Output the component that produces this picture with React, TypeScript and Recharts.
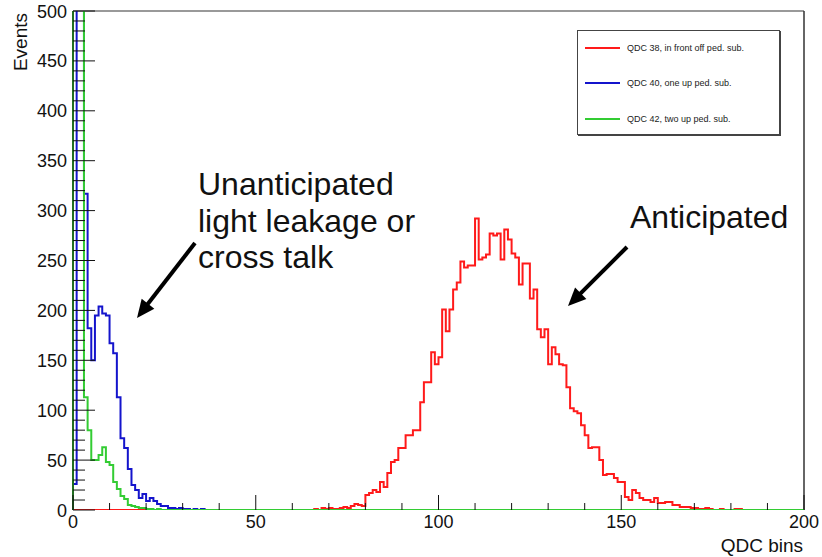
import React from "react";
import {
  LineChart,
  Line,
  XAxis,
  YAxis,
  Legend,
  ReferenceLine,
} from "recharts";

// counts per 1-unit QDC bin; red starts at bin redStart, blue/green at bin 0
const redStart = 66;
const redCounts = [
  1, 0, 2, 1, 2, 1, 1, 2, 3, 2, 4, 6, 5, 4, 15, 17, 20, 18, 28, 23, 37, 48, 50,
  62, 62, 75, 75, 80, 80, 108, 128, 128, 158, 146, 153, 201, 179, 201, 221, 228,
  249, 243, 245, 245, 292, 251, 253, 256, 277, 275, 277, 251, 281, 271, 257, 253,
  226, 247, 247, 212, 221, 181, 173, 181, 146, 163, 156, 146, 145, 123, 102, 99,
  97, 85, 75, 62, 63, 63, 50, 35, 36, 36, 32, 28, 28, 13, 10, 20, 17, 12, 10, 10,
  8, 12, 7, 7, 8, 8, 5, 5, 3, 3, 3, 2, 2, 1, 1, 2, 1, 0, 0, 1, 0, 0, 0, 1, 1,
];
const blueCounts = [
  26, 1200, 900, 317, 182, 150, 195, 204, 197, 195, 167, 157, 113, 72, 62, 41,
  25, 20, 12, 16, 9, 12, 9, 6, 4, 4, 2, 2, 1, 2, 1, 1, 0, 1, 0, 1,
];
const greenCounts = [
  1800, 1300, 800, 113, 80, 50, 50, 55, 63, 48, 45, 28, 21, 14, 11, 5, 4, 3, 2,
  2, 1, 1, 0, 1,
];

const seriesNames = [
  "QDC 38, in front off ped. sub.",
  "QDC 40, one up ped. sub.",
  "QDC 42, two up ped. sub.",
];
const seriesColors = ["#ff1a1a", "#1414cc", "#33cc33"];

const xMajorTicks = [0, 50, 100, 150, 200];
const yMajorTicks = [0, 50, 100, 150, 200, 250, 300, 350, 400, 450, 500];
const xTicks = Array.from({ length: 21 }, (_, i) => i * 10);
const yTicks = Array.from({ length: 51 }, (_, i) => i * 10);

const nBins = 200;
const font = "'Liberation Sans', Arial, Helvetica, sans-serif";

const binValue = (arr: number[], start: number, k: number) =>
  k - start >= 0 && k - start < arr.length ? arr[k - start] : 0;

// step histogram rows: baseline start, one row per bin edge, closing edge
const data: any[] = [{ x: 0, red: 0, blue: 0, green: 0 }];
for (let k = 0; k <= nBins; k++) {
  const b = Math.min(k, nBins - 1);
  data.push({
    x: k,
    red: binValue(redCounts, redStart, b),
    blue: binValue(blueCounts, 0, b),
    green: binValue(greenCounts, 0, b),
  });
}

const XTick = (props: any) => {
  const { x, y, payload } = props;
  const major = xMajorTicks.includes(payload.value);
  return (
    <g>
      <line x1={x} y1={y} x2={x} y2={y - (major ? 15 : 7)} stroke="#111" strokeWidth={1} />
      {major && (
        <text x={x} y={y + 18} textAnchor="middle" fontSize={18} fontFamily={font} fill="#111">
          {payload.value}
        </text>
      )}
    </g>
  );
};

const YTick = (props: any) => {
  const { x, y, payload } = props;
  const major = yMajorTicks.includes(payload.value);
  return (
    <g>
      <line x1={x} y1={y} x2={x + (major ? 22 : 12)} y2={y} stroke="#111" strokeWidth={1} />
      {major && (
        <text x={x - 6} y={y + 6.5} textAnchor="end" fontSize={18} fontFamily={font} fill="#111">
          {payload.value}
        </text>
      )}
    </g>
  );
};

const renderLegend = (props: any) => (
  <div
    style={{
      width: 203,
      height: 105,
      boxSizing: "border-box",
      border: "1px solid #444",
      boxShadow: "1px 1px 0 #444",
      background: "#fff",
      position: "relative",
      fontFamily: font,
      fontSize: 9,
      color: "#222",
    }}
  >
    {(props.payload || []).map((entry: any, i: number) => (
      <div
        key={`leg-${i}`}
        style={{
          position: "absolute",
          left: 7,
          top: [17, 52, 88][i] - 7,
          height: 14,
          display: "flex",
          alignItems: "center",
          whiteSpace: "nowrap",
        }}
      >
        <svg width={35} height={4}>
          <line x1={0} y1={2} x2={35} y2={2} stroke={entry.color} strokeWidth={2} />
        </svg>
        <span style={{ marginLeft: 7 }}>{entry.value}</span>
      </div>
    ))}
  </div>
);

const Arrow = ({ x1, y1, x2, y2 }: { x1: number; y1: number; x2: number; y2: number }) => {
  const dx = x2 - x1;
  const dy = y2 - y1;
  const len = Math.sqrt(dx * dx + dy * dy);
  const ux = dx / len;
  const uy = dy / len;
  const head = 18;
  const half = 8;
  const bx = x2 - ux * head;
  const by = y2 - uy * head;
  return (
    <g>
      <line x1={x1} y1={y1} x2={bx + ux * 2} y2={by + uy * 2} stroke="#000" strokeWidth={4} />
      <polygon
        points={`${x2},${y2} ${bx - uy * half},${by + ux * half} ${bx + uy * half},${by - ux * half}`}
        fill="#000"
      />
    </g>
  );
};

const App: React.FC = () => {
  return (
    <div style={{ position: "absolute", left: 0, top: 0, width: 822, height: 557, background: "#fff" }}>
      <LineChart
        width={822}
        height={557}
        data={data}
        margin={{ top: 11, right: 18, bottom: 0, left: 0 }}
      >
        <XAxis
          dataKey="x"
          type="number"
          domain={[0, 200]}
          ticks={xTicks}
          interval={0}
          height={47}
          tickSize={0}
          tickMargin={0}
          tick={<XTick />}
          axisLine={false}
          tickLine={false}
          label={{
            content: (p: any) => {
              const vb = p.viewBox || {};
              return (
                <text
                  x={(vb.x ?? 73) + (vb.width ?? 731) - 1}
                  y={(vb.y ?? 510) + 42}
                  textAnchor="end"
                  fontSize={19}
                  fontFamily={font}
                  fill="#111"
                >
                  QDC bins
                </text>
              );
            },
          }}
        />
        <YAxis
          type="number"
          domain={[0, 500]}
          allowDataOverflow
          ticks={yTicks}
          interval={0}
          width={73}
          tickSize={0}
          tickMargin={0}
          tick={<YTick />}
          axisLine={{ stroke: "#111" }}
          tickLine={false}
          label={{
            content: (p: any) => {
              const vb = p.viewBox || {};
              const lx = (vb.x ?? 0) + 27;
              const ly = (vb.y ?? 11) + 2;
              return (
                <text
                  x={lx}
                  y={ly}
                  transform={`rotate(-90, ${lx}, ${ly})`}
                  textAnchor="end"
                  fontSize={19}
                  fontFamily={font}
                  fill="#111"
                >
                  Events
                </text>
              );
            },
          }}
        />
        <ReferenceLine y={500} stroke="#777" strokeWidth={1.5} />
        <ReferenceLine x={200} stroke="#333" strokeWidth={1.5} />
        <Line
          type="stepAfter"
          dataKey="red"
          name={seriesNames[0]}
          stroke={seriesColors[0]}
          strokeWidth={2}
          dot={false}
          isAnimationActive={false}
        />
        <Line
          type="stepAfter"
          dataKey="blue"
          name={seriesNames[1]}
          stroke={seriesColors[1]}
          strokeWidth={2}
          dot={false}
          isAnimationActive={false}
        />
        <Line
          type="stepAfter"
          dataKey="green"
          name={seriesNames[2]}
          stroke={seriesColors[2]}
          strokeWidth={2}
          dot={false}
          isAnimationActive={false}
        />
        <Legend
          layout="horizontal"
          verticalAlign="middle"
          align="center"
          content={renderLegend}
          wrapperStyle={{ left: 577, top: 30, width: 203, height: 105 }}
        />
      </LineChart>
      <svg
        width={822}
        height={557}
        style={{ position: "absolute", left: 0, top: 0, pointerEvents: "none" }}
      >
        <g fontFamily={font} fontSize={32} fill="#111">
          <text x={198} y={195}>Unanticipated</text>
          <text x={198} y={232}>light leakage or</text>
          <text x={198} y={268}>cross talk</text>
          <text x={630} y={228}>Anticipated</text>
        </g>
        <Arrow x1={195} y1={243} x2={137} y2={318} />
        <Arrow x1={627} y1={247} x2={568} y2={306} />
      </svg>
    </div>
  );
};

export default App;
